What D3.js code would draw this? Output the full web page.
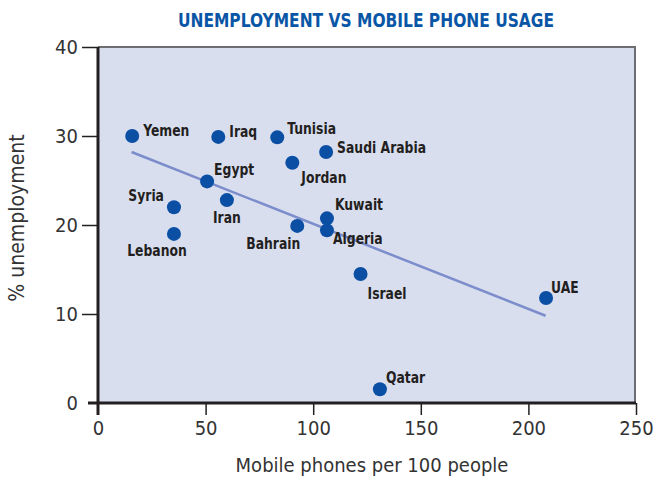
<!DOCTYPE html>
<html>
<head>
<meta charset="utf-8">
<script src="https://cdn.jsdelivr.net/npm/d3@7"></script>
<style>
  body { margin: 0; background: #fff; }
  svg text { font-family: "DejaVu Sans Condensed", "DejaVu Sans", sans-serif; }
</style>
</head>
<body>
<div id="chart"></div>
<script>
// data
var countries = ["Yemen", "Iraq", "Tunisia", "Saudi Arabia", "Jordan", "Egypt", "Iran", "Syria",
                 "Lebanon", "Bahrain", "Kuwait", "Algeria", "Israel", "UAE", "Qatar"];
var phones = [15.9, 55.9, 83.3, 106, 90.3, 50.7, 59.9, 35.3, 35.3, 92.6, 106.4, 106.4, 122, 208.2, 131];
var unemployment = [30.0, 29.9, 29.85, 28.2, 27.0, 24.9, 22.8, 22.0, 19.0, 19.9, 20.75, 19.4, 14.5, 11.8, 1.55];
var trendX = [15.6, 208];
var trendY = [28.2, 9.8];
var xTicks = [0, 50, 100, 150, 200, 250];
var yTicks = [0, 10, 20, 30, 40];

// label placement (offset from the dot, text anchor)
var labelPos = {
  "Yemen": [11, 0, "start"], "Iraq": [11, 0, "start"], "Tunisia": [10, -3, "start"],
  "Saudi Arabia": [11, 1, "start"], "Jordan": [9, 20, "start"], "Egypt": [7, -6, "start"],
  "Iran": [0, 23, "middle"], "Syria": [-10, -6, "end"], "Lebanon": [-17, 22, "middle"],
  "Bahrain": [-24, 23, "middle"], "Kuwait": [8, -8, "start"], "Algeria": [6, 14, "start"],
  "Israel": [7, 25, "start"], "UAE": [5, -5, "start"], "Qatar": [6, -6, "start"]
};

var data = countries.map(function (c, i) {
  return { name: c, x: phones[i], y: unemployment[i] };
});

var width = 655, height = 478;
var margin = { top: 47, right: 19, bottom: 75, left: 98 };
var squeeze = 0.86; // fake a condensed face

var svg = d3.select("#chart")
  .append("svg")
  .attr("width", width)
  .attr("height", height);

var x = d3.scaleLinear()
  .domain([0, 250])
  .range([margin.left, width - margin.right]);

var y = d3.scaleLinear()
  .domain([0, 40])
  .range([height - margin.bottom, margin.top]);

// plot background
svg.append("rect")
  .attr("x", x(0))
  .attr("y", y(40))
  .attr("width", x(250) - x(0))
  .attr("height", y(0) - y(40))
  .attr("fill", "#d9deef");

// top and right border
svg.append("path")
  .attr("d", "M" + x(0) + "," + y(40) + "H" + (x(250) - 1) + "V" + y(0))
  .attr("fill", "none")
  .attr("stroke", "#6d6e71")
  .attr("stroke-width", 2);

// Y axis
var yAxis = svg.append("g")
  .attr("transform", "translate(" + x(0) + ",0)")
  .call(d3.axisLeft(y).tickValues(yTicks).tickSize(16).tickPadding(4));
yAxis.select(".domain").remove();
yAxis.selectAll(".tick line").attr("stroke", "#231f20").attr("stroke-width", 1.5)
  .filter(function (d) { return d === 0; }).remove();
yAxis.selectAll(".tick text")
  .attr("fill", "#333")
  .style("font-size", "20px");

// X axis
var xAxis = svg.append("g")
  .attr("transform", "translate(0," + y(0) + ")")
  .call(d3.axisBottom(x).tickValues(xTicks).tickSize(12).tickPadding(6));
xAxis.select(".domain").remove();
xAxis.selectAll(".tick line").attr("stroke", "#231f20").attr("stroke-width", 1.5)
  .filter(function (d) { return d === 0; }).remove();
xAxis.selectAll(".tick text")
  .attr("fill", "#333")
  .style("font-size", "20px");

// thick axis lines
svg.append("line")
  .attr("x1", x(0)).attr("x2", x(0))
  .attr("y1", y(40)).attr("y2", y(0) + 12)
  .attr("stroke", "#231f20").attr("stroke-width", 3);
svg.append("line")
  .attr("x1", x(0) - 10).attr("x2", x(250))
  .attr("y1", y(0)).attr("y2", y(0))
  .attr("stroke", "#231f20").attr("stroke-width", 3);

// trend line
svg.append("line")
  .attr("x1", x(trendX[0])).attr("y1", y(trendY[0]))
  .attr("x2", x(trendX[1])).attr("y2", y(trendY[1]))
  .attr("stroke", "#7b8dcb")
  .attr("stroke-width", 2.5);

// dots
svg.append("g")
  .selectAll("circle")
  .data(data)
  .enter()
  .append("circle")
  .attr("cx", function (d) { return x(d.x); })
  .attr("cy", function (d) { return y(d.y); })
  .attr("r", 7)
  .attr("fill", "#0a4fa3");

// country labels
svg.append("g")
  .selectAll("text")
  .data(data)
  .enter()
  .append("text")
  .attr("transform", function (d) {
    return "translate(" + (x(d.x) + labelPos[d.name][0]) + "," + (y(d.y) + labelPos[d.name][1]) + ") scale(" + squeeze + ",1)";
  })
  .attr("text-anchor", function (d) { return labelPos[d.name][2]; })
  .attr("fill", "#231f20")
  .style("font-size", "16px")
  .style("font-weight", "bold")
  .text(function (d) { return d.name; });

// title
svg.append("text")
  .attr("transform", "translate(366,27) scale(" + squeeze + ",1)")
  .attr("text-anchor", "middle")
  .attr("fill", "#0a56a6")
  .style("font-size", "20px")
  .style("font-weight", "bold")
  .text("UNEMPLOYMENT VS MOBILE PHONE USAGE");

// axis titles
svg.append("text")
  .attr("x", 372)
  .attr("y", 472)
  .attr("text-anchor", "middle")
  .attr("fill", "#333")
  .style("font-size", "20px")
  .text("Mobile phones per 100 people");

svg.append("text")
  .attr("transform", "translate(24,218) rotate(-90)")
  .attr("text-anchor", "middle")
  .attr("fill", "#333")
  .style("font-size", "21px")
  .text("% unemployment");
</script>
</body>
</html>
